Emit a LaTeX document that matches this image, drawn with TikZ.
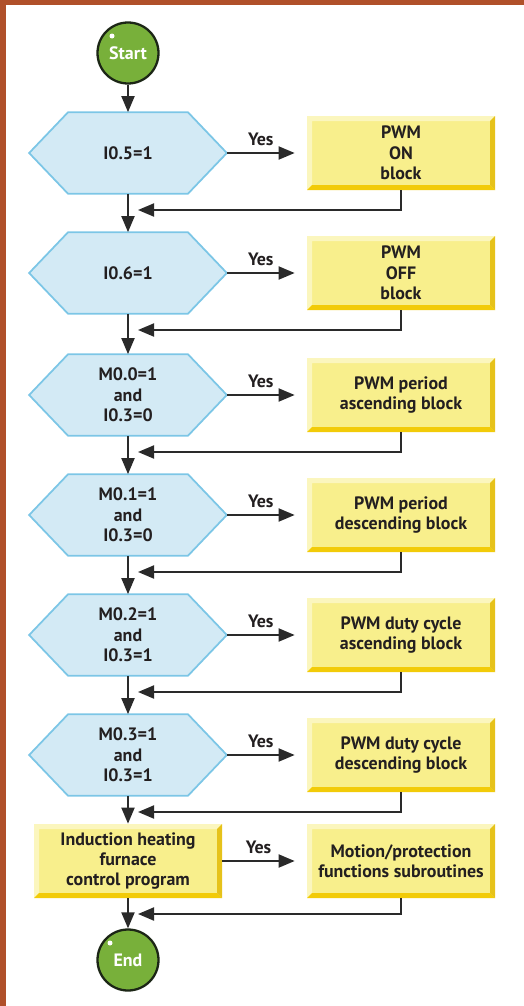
\documentclass[tikz,border=0pt]{standalone}
\usepackage{fontspec}
\setmainfont{PT Sans}
\usetikzlibrary{arrows.meta,backgrounds}
\definecolor{framebrown}{HTML}{B0502A}
\definecolor{inkgray}{HTML}{231F20}
\definecolor{linegray}{HTML}{2A2A2A}
\definecolor{termgreen}{HTML}{78B03A}
\definecolor{termline}{HTML}{1C2616}
\definecolor{hexblue}{HTML}{D3EAF5}
\definecolor{hexline}{HTML}{7CC6E6}
\definecolor{blockyellow}{HTML}{F8EF8C}
\definecolor{bevelgold}{HTML}{F2CB08}
\definecolor{bevelside}{HTML}{E6C21A}
\definecolor{bevellight}{HTML}{FBF6BE}
\begin{document}
\begin{tikzpicture}[
  every node/.style={font=\bfseries\fontsize{10.2}{11.6}\selectfont, text=inkgray, align=center},
  terminal/.style={circle, draw=termline, line width=1.3pt, fill=termgreen, minimum size=1.22cm, inner sep=0,
    text=white, font=\bfseries\fontsize{10.2}{12}\selectfont},
  decision/.style={minimum width=3.94cm, minimum height=1.62cm, inner sep=0},
  hexagon/.style={draw=hexline, fill=hexblue, line width=1pt},
  block/.style={fill=blockyellow, minimum width=3.76cm, minimum height=1.48cm, inner sep=2pt,
    path picture={
      \fill[bevellight] (path picture bounding box.south west) -- (path picture bounding box.north west)
        -- (path picture bounding box.north east) -- ([shift={(-0.1,-0.1)}]path picture bounding box.north east)
        -- ([shift={(0.1,-0.1)}]path picture bounding box.north west) -- ([shift={(0.1,0.1)}]path picture bounding box.south west) -- cycle;
      \fill[bevelgold] (path picture bounding box.south west) -- (path picture bounding box.south east)
        -- ([shift={(-0.1,0.1)}]path picture bounding box.south east) -- ([shift={(0.1,0.1)}]path picture bounding box.south west) -- cycle;
      \fill[bevelside] (path picture bounding box.south east) -- (path picture bounding box.north east)
        -- ([shift={(-0.1,-0.1)}]path picture bounding box.north east) -- ([shift={(-0.1,0.1)}]path picture bounding box.south east) -- cycle;
    }},
  flow/.style={draw=linegray, line width=1.1pt, -{Triangle[length=0.32cm,width=0.26cm]}},
  dot/.style={circle, fill=white, minimum size=0.1cm, inner sep=0},
]
\useasboundingbox (0,0) rectangle (10.48,-20.12);
\fill[framebrown] (0,0) rectangle (0.12,-20.12);
\fill[framebrown] (0,0) rectangle (10.48,-0.1);

\node[terminal] (start) at (2.56,-1.06) {Start};
\node[dot] (startdot) at (2.24,-0.72) {};

\foreach \n/\y/\cond/\act in {
    1/3.06/{I0.5=1}/{PWM\\ON\\block},
    2/5.46/{I0.6=1}/{PWM\\OFF\\block},
    3/7.90/{M0.0=1\\and\\I0.3=0}/{PWM period\\ascending block},
    4/10.30/{M0.1=1\\and\\I0.3=0}/{PWM period\\descending block},
    5/12.70/{M0.2=1\\and\\I0.3=1}/{PWM duty cycle\\ascending block},
    6/15.10/{M0.3=1\\and\\I0.3=1}/{PWM duty cycle\\descending block}} {
  \node[decision] (c\n) at (2.56,-\y) {\cond};
  \node[block] (b\n) at (8.02,-\y) {\act};
  \draw[flow] (c\n.east) -- node[above] {Yes} ([xshift=-0.24cm]b\n.west);
  \draw[flow] (b\n.south) |- ([xshift=0.2cm,yshift=-1.14cm]c\n.center);
}

\node[block] (prog) at (2.56,-17.22) {Induction heating\\furnace\\control program};
\node[block] (b7) at (8.02,-17.22) {Motion/protection\\functions subroutines};
\draw[flow] (prog.east) -- node[above] {Yes} ([xshift=-0.24cm]b7.west);
\draw[flow] (b7.south) |- ([xshift=0.2cm,yshift=-1.06cm]prog.center);

\node[terminal] (end) at (2.56,-19.2) {End};
\node[dot] (enddot) at (2.2,-18.86) {};

\draw[flow] (start) -- (c1);
\foreach \i [evaluate=\i as \j using int(\i+1)] in {1,...,5}
  \draw[flow] (c\i) -- (c\j);
\draw[flow] (c6) -- (prog);
\draw[flow] (prog) -- (end);

\begin{scope}[on background layer]
  \foreach \n in {1,...,6}
    \draw[hexagon] (c\n.west) -- ([xshift=0.78cm]c\n.north west) -- ([xshift=-0.78cm]c\n.north east)
      -- (c\n.east) -- ([xshift=-0.78cm]c\n.south east) -- ([xshift=0.78cm]c\n.south west) -- cycle;
\end{scope}
\end{tikzpicture}
\end{document}
